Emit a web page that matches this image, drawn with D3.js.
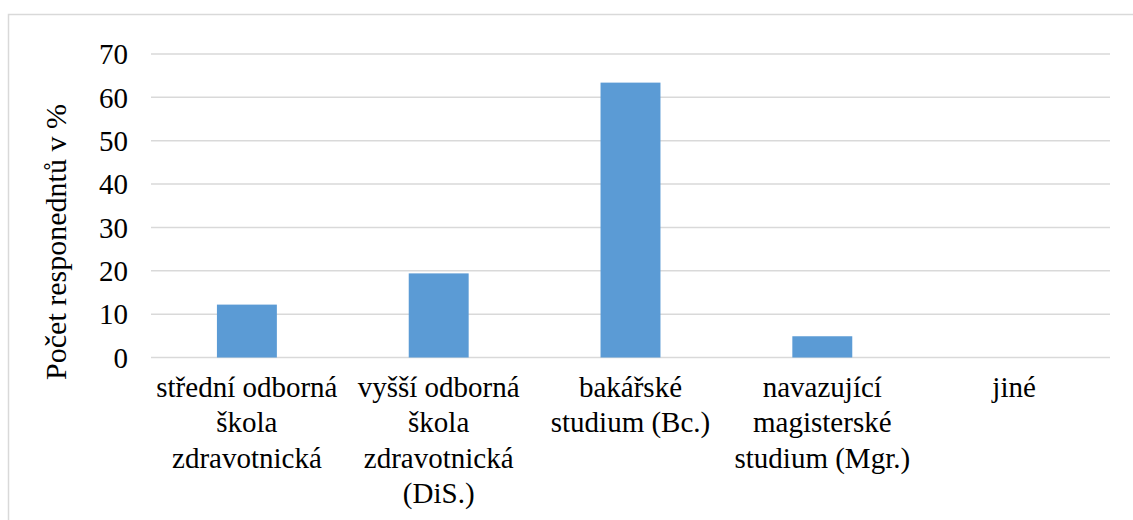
<!DOCTYPE html>
<html lang="cs">
<head>
    <meta charset="UTF-8">
    <title>Vzdělání respondentů</title>
    <script src="https://d3js.org/d3.v7.min.js"></script>
    <style>
        body { margin: 0; background: #fff; }
        svg text { font-family: "Liberation Serif", "Times New Roman", serif; fill: #000; }
    </style>
</head>
<body>
    <div id="chart"></div>
    <script>
        // data
        var categories = [
            ["střední odborná", "škola", "zdravotnická"],
            ["vyšší odborná", "škola", "zdravotnická", "(DiS.)"],
            ["bakářské", "studium (Bc.)"],
            ["navazující", "magisterské", "studium (Mgr.)"],
            ["jiné"]
        ];
        var values = [12.2, 19.4, 63.4, 4.9, 0];
        var yTicks = [0, 10, 20, 30, 40, 50, 60, 70];
        var yTitle = "Počet responedntů v %";

        var width = 1133, height = 520;
        var plotLeft = 151, plotRight = 1110, plotTop = 54, plotBottom = 357.5;
        var fontSize = "29px";

        var svg = d3.select("#chart")
            .append("svg")
            .attr("width", width)
            .attr("height", height);

        // frame
        svg.append("rect")
            .attr("x", 8.5)
            .attr("y", 14.5)
            .attr("width", 1200)
            .attr("height", 600)
            .attr("fill", "none")
            .attr("stroke", "#d9d9d9")
            .attr("stroke-width", 1.5);

        var x = d3.scaleBand()
            .domain(d3.range(values.length))
            .range([plotLeft, plotRight])
            .paddingInner(0.6875)
            .paddingOuter(0.34375);

        var y = d3.scaleLinear()
            .domain([0, 70])
            .range([plotBottom, plotTop]);

        // gridlines
        svg.append("g")
            .selectAll("line")
            .data(yTicks)
            .enter()
            .append("line")
            .attr("x1", plotLeft)
            .attr("x2", plotRight)
            .attr("y1", function(d) { return y(d); })
            .attr("y2", function(d) { return y(d); })
            .attr("stroke", "#d9d9d9")
            .attr("stroke-width", 1.5);

        // y tick labels
        svg.append("g")
            .selectAll("text")
            .data(yTicks)
            .enter()
            .append("text")
            .attr("x", 128)
            .attr("y", function(d) { return y(d); })
            .attr("dy", "0.35em")
            .attr("text-anchor", "end")
            .attr("font-size", fontSize)
            .text(function(d) { return d; });

        // bars
        svg.append("g")
            .selectAll("rect")
            .data(values)
            .enter()
            .append("rect")
            .attr("x", function(d, i) { return x(i); })
            .attr("y", function(d) { return y(d); })
            .attr("width", x.bandwidth())
            .attr("height", function(d) { return y(0) - y(d); })
            .attr("fill", "#5b9bd5");

        // category labels
        var labels = svg.append("g")
            .selectAll("text")
            .data(categories)
            .enter()
            .append("text")
            .attr("text-anchor", "middle")
            .attr("font-size", fontSize);

        labels.selectAll("tspan")
            .data(function(d, i) { return d.map(function(s) { return { s: s, i: i }; }); })
            .enter()
            .append("tspan")
            .attr("x", function(d) { return x(d.i) + x.bandwidth() / 2; })
            .attr("y", function(d, j) { return 396.5 + j * 35.6; })
            .text(function(d) { return d.s; });

        // y title
        svg.append("text")
            .attr("transform", "translate(66,242) rotate(-90)")
            .attr("text-anchor", "middle")
            .attr("font-size", "30px")
            .text(yTitle);
    </script>
</body>
</html>
